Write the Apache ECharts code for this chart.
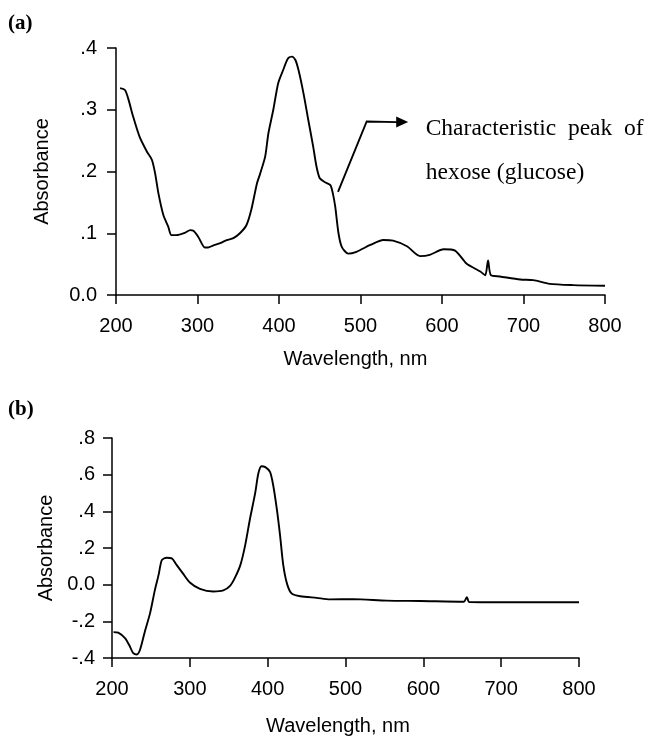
<!DOCTYPE html>
<html>
<head>
<meta charset="utf-8">
<script src="https://cdn.jsdelivr.net/npm/echarts@6/dist/echarts.min.js"></script>
<style>
html,body{margin:0;padding:0;background:#fff;}
#c{width:650px;height:737px;}
</style>
</head>
<body>
<div id="c"></div>
<script>
// Panel (a) spectrum
const wavelengthA = [205, 211, 215, 221, 229, 238, 244, 248, 252, 258, 264, 268, 274, 285, 291, 295, 301, 309, 313, 319, 328, 336, 344, 352, 360, 366, 373, 377, 383, 387, 393, 399, 405, 411, 416, 420, 424, 430, 436, 442, 446, 450, 456, 463, 466, 469, 473, 477, 485, 495, 512, 528, 540, 557, 573, 585, 602, 616, 630, 647, 653, 656.5, 660, 671, 696, 712, 732, 761, 800];
const absorbanceA = [0.335, 0.332, 0.318, 0.289, 0.256, 0.232, 0.219, 0.197, 0.165, 0.130, 0.111, 0.097, 0.097, 0.101, 0.105, 0.104, 0.094, 0.077, 0.077, 0.080, 0.084, 0.089, 0.092, 0.100, 0.113, 0.138, 0.181, 0.197, 0.224, 0.262, 0.300, 0.343, 0.364, 0.383, 0.386, 0.381, 0.364, 0.327, 0.283, 0.240, 0.208, 0.189, 0.183, 0.178, 0.165, 0.143, 0.100, 0.078, 0.067, 0.070, 0.081, 0.089, 0.088, 0.079, 0.063, 0.065, 0.074, 0.072, 0.051, 0.038, 0.032, 0.056, 0.032, 0.030, 0.025, 0.024, 0.018, 0.016, 0.015];

// Panel (b) spectrum
const wavelengthB = [202, 208, 217, 223, 227, 232, 236, 242, 249, 255, 260, 264, 270, 277, 283, 292, 300, 313, 330, 343, 352, 358, 365, 371, 377, 384, 388, 392, 397, 403, 407, 412, 416, 420, 425, 431, 442, 463, 480, 510, 553, 596, 652, 656, 659, 703, 746, 800];
const absorbanceB = [-0.259, -0.262, -0.293, -0.337, -0.372, -0.381, -0.355, -0.259, -0.154, -0.031, 0.056, 0.134, 0.147, 0.143, 0.108, 0.056, 0.012, -0.023, -0.037, -0.031, -0.005, 0.038, 0.108, 0.213, 0.353, 0.501, 0.606, 0.646, 0.641, 0.615, 0.545, 0.405, 0.266, 0.108, 0.003, -0.049, -0.063, -0.072, -0.080, -0.079, -0.087, -0.089, -0.093, -0.068, -0.095, -0.096, -0.096, -0.096];

// Axis ranges / ticks
const xTicks = [200, 300, 400, 500, 600, 700, 800];
const yTicksA = [0, 0.1, 0.2, 0.3, 0.4];
const yTicksB = [-0.4, -0.2, 0, 0.2, 0.4, 0.6, 0.8];

// Annotation (data coordinates of panel a)
const arrowPath = [[472.4, 0.167], [507.6, 0.281], [545, 0.280]];
const arrowTip = [558.5, 0.280];
const noteLines = ['Characteristic  peak  of', 'hexose (glucose)'];
const notePos = [[580, 0.269], [580, 0.198]];

const zip = (xs, ys) => xs.map((x, i) => [x, ys[i]]);
const fmtY = v => {
  const r = Math.round(v * 10) / 10;
  if (r === 0) return '0.0';
  return (r < 0 ? '-' : '') + Math.abs(r).toFixed(1).replace(/^0/, '');
};

const lineCol = '#000';
const axisCommon = {
  axisLine: { onZero: false, lineStyle: { color: lineCol, width: 1.5 } },
  axisTick: { length: 9, lineStyle: { color: lineCol, width: 1.5 } },
  splitLine: { show: false },
  nameTextStyle: { color: '#000', fontSize: 20, fontFamily: 'Liberation Sans' }
};
const labelCommon = { color: '#000', fontSize: 20, fontFamily: 'Liberation Sans' };

const chart = echarts.init(document.getElementById('c'), null, { renderer: 'canvas' });
chart.setOption({
  backgroundColor: '#fff',
  animation: false,
  grid: [
    { left: 116, right: 45, top: 48, bottom: 442 },
    { left: 112, right: 71, top: 438, bottom: 70 }
  ],
  xAxis: [0, 1].map(i => Object.assign({}, axisCommon, {
    gridIndex: i, type: 'value',
    min: xTicks[0], max: xTicks[xTicks.length - 1], interval: xTicks[1] - xTicks[0],
    name: 'Wavelength, nm', nameLocation: 'middle', nameGap: 54 + (i ? 4 : 0),
    nameTextStyle: Object.assign({}, axisCommon.nameTextStyle, { padding: [0, i ? 15 : 10, 0, 0] }),
    axisLabel: Object.assign({}, labelCommon, { margin: 21 })
  })),
  yAxis: [
    Object.assign({}, axisCommon, {
      gridIndex: 0, type: 'value', min: yTicksA[0], max: yTicksA[yTicksA.length - 1],
      interval: yTicksA[1] - yTicksA[0],
      name: 'Absorbance', nameLocation: 'middle', nameGap: 64,
      axisLabel: Object.assign({}, labelCommon, { margin: 19, formatter: fmtY })
    }),
    Object.assign({}, axisCommon, {
      gridIndex: 1, type: 'value', min: yTicksB[0], max: yTicksB[yTicksB.length - 1],
      interval: yTicksB[1] - yTicksB[0],
      name: 'Absorbance', nameLocation: 'middle', nameGap: 56,
      axisLabel: Object.assign({}, labelCommon, { margin: 17, formatter: fmtY })
    })
  ],
  series: [
    { type: 'line', xAxisIndex: 0, yAxisIndex: 0, data: zip(wavelengthA, absorbanceA),
      showSymbol: false, smooth: 0.25, lineStyle: { color: lineCol, width: 1.9 } },
    { type: 'line', xAxisIndex: 1, yAxisIndex: 1, data: zip(wavelengthB, absorbanceB),
      showSymbol: false, smooth: 0.25, lineStyle: { color: lineCol, width: 1.9 } }
  ]
});

// Annotation built from data coordinates
const px = p => chart.convertToPixel({ gridIndex: 0 }, p);
const pts = arrowPath.map(px);
const tip = px(arrowTip);
chart.setOption({
  graphic: [
    { type: 'text', left: 8, top: 13, style: { text: '(a)', font: 'bold 21px "Liberation Serif"', fill: '#000' } },
    { type: 'text', left: 8, top: 399, style: { text: '(b)', font: 'bold 21px "Liberation Serif"', fill: '#000' } },
    { type: 'polyline', shape: { points: pts }, style: { stroke: '#000', lineWidth: 1.9, fill: null } },
    { type: 'polygon', shape: { points: [tip, [tip[0] - 12, tip[1] - 5.5], [tip[0] - 12, tip[1] + 5.5]] }, style: { fill: '#000' } },
    ...noteLines.map((t, i) => {
      const p = px(notePos[i]);
      return { type: 'text', x: p[0], y: p[1], style: { text: t, font: '23.5px "Liberation Serif"', fill: '#000', textVerticalAlign: 'middle', textAlign: 'left' } };
    })
  ]
});
</script>
</body>
</html>
